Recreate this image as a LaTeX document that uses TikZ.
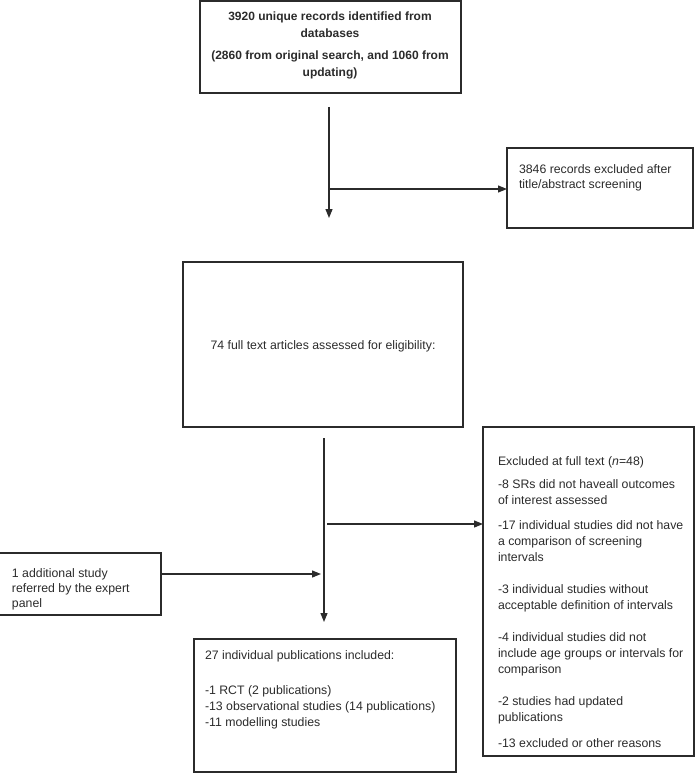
\documentclass[tikz,border=0pt]{standalone}
\usepackage{fontspec}
\setmainfont{Liberation Sans}
\usetikzlibrary{arrows.meta}
\definecolor{ink}{HTML}{2B2B2B}
\newcommand{\mylinesL}[1]{\begin{tabular}[t]{@{}l@{}}#1\end{tabular}}
\newcommand{\mylinesC}[1]{\begin{tabular}[t]{@{}c@{}}#1\end{tabular}}
\begin{document}
\begin{tikzpicture}[x=1pt,y=-1pt,
  box/.style={draw=ink, line width=1.4pt, inner sep=0pt, outer sep=0pt, anchor=north west, rectangle},
  txt/.style={inner sep=0pt, outer sep=0pt, anchor=base west, text=ink, font=\fontsize{12.3}{16}\selectfont},
  conn/.style={draw=ink, line width=1.2pt},
  arr/.style={conn, -{Triangle[length=9pt,width=7pt]}}]
\useasboundingbox (0,0) rectangle (695,773);

% boxes
\node[box, minimum width=261pt, minimum height=92pt] (b1) at (200,1) {};
\node[box, minimum width=186pt, minimum height=80pt] (b2) at (507,148) {};
\node[box, minimum width=280pt, minimum height=165pt] (b3) at (183,262) {};
\node[box, minimum width=211pt, minimum height=329pt] (b4) at (483,427) {};
\node[box, minimum width=162pt, minimum height=62pt] (b5) at (-1,553) {};
\node[box, minimum width=262pt, minimum height=133pt] (b6) at (194,639) {};

% box 1 text
\node[txt, anchor=base, font=\bfseries\fontsize{12}{17}\selectfont] (t1a) at (330,21) {\mylinesC{3920 unique records identified from\\databases}};
\node[txt, anchor=base, font=\bfseries\fontsize{12}{17}\selectfont] (t1b) at (330,60) {\mylinesC{(2860 from original search, and 1060 from\\updating)}};

% box 2 text
\node[txt, font=\fontsize{12.3}{15}\selectfont] (t2) at (519,173) {\mylinesL{3846 records excluded after\\title/abstract screening}};

% box 3 text
\node[txt, anchor=base] (t3) at (323,349) {74 full text articles assessed for eligibility:};

% exclusion box text
\node[txt] (e0) at (498,465) {Excluded at full text (\textit{n}=48)};
\node[txt] (e1) at (498,488) {\mylinesL{-8 SRs did not haveall outcomes\\of interest assessed}};
\node[txt] (e2) at (498,529) {\mylinesL{-17 individual studies did not have\\a comparison of screening\\intervals}};
\node[txt] (e3) at (498,593) {\mylinesL{-3 individual studies without\\acceptable definition of intervals}};
\node[txt] (e4) at (498,641) {\mylinesL{-4 individual studies did not\\include age groups or intervals for\\comparison}};
\node[txt] (e5) at (498,705) {\mylinesL{-2 studies had updated\\publications}};
\node[txt] (e6) at (498,747) {-13 excluded or other reasons};

% left box text
\node[txt, font=\fontsize{12.3}{15}\selectfont] (t5) at (12,577) {\mylinesL{1 additional study\\referred by the expert\\panel}};

% bottom box text
\node[txt] (t6a) at (205,659) {27 individual publications included:};
\node[txt] (t6b) at (205,694) {\mylinesL{-1 RCT (2 publications)\\-13 observational studies (14 publications)\\-11 modelling studies}};

% connectors
\coordinate (c1) at (329,107);
\coordinate (c2) at (329,218);
\coordinate (c3) at (329,189);
\draw[arr] (c1) -- (c2);
\draw[arr] (c3) -- (c3 -| b2.west);

\coordinate (d1) at (324,438);
\coordinate (d2) at (324,622);
\coordinate (d3) at (327,524);
\coordinate (d4) at (321,574);
\draw[arr] (d1) -- (d2);
\draw[arr] (d3) -- (d3 -| b4.west);
\draw[arr] (d4 -| b5.east) -- (d4);
\end{tikzpicture}
\end{document}
